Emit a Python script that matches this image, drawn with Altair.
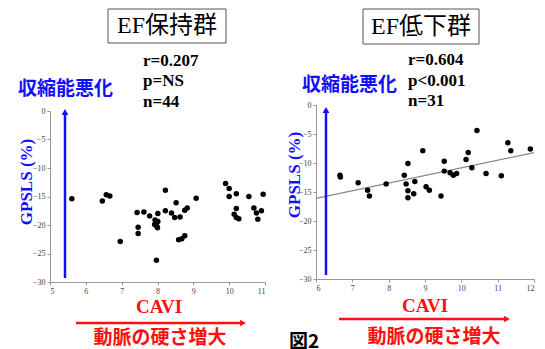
import altair as alt
import pandas as pd

# ---- data ----
left_cavi = [5.61, 6.46, 6.57, 6.67, 6.96, 7.43, 7.62, 7.78, 8.01, 8.22, 8.22, 7.46, 7.46,
             7.95, 8.01, 7.98, 7.92, 7.97, 8.52, 9.08, 8.39, 8.48, 8.63, 8.76, 8.83, 8.59,
             8.68, 8.76, 9.90, 10.0, 10.0, 10.2, 10.55, 10.95, 10.2, 10.14, 10.2, 10.27,
             10.69, 10.76, 10.9, 10.8, 8.0, 7.93]
left_gpsls = [-15.4, -15.8, -14.7, -14.9, -22.9, -17.8, -17.7, -18.4, -18.0, -17.5, -13.9, -20.4, -21.5,
              -19.6, -19.4, -20.2, -19.9, -26.2, -16.1, -15.3, -17.9, -18.7, -18.6, -17.4, -17.0, -22.6,
              -22.4, -21.9, -12.7, -13.6, -15.0, -14.5, -15.0, -14.6, -17.1, -18.1, -18.7, -18.9,
              -17.0, -17.9, -17.5, -19.0, -20.5, -19.1]

right_cavi = [6.66, 6.67, 7.16, 7.42, 7.47, 7.93, 8.43, 8.53, 8.48, 8.53, 8.53, 8.69, 8.72, 8.94,
              9.03, 9.12, 9.44, 9.53, 9.53, 9.69, 9.78, 9.87, 10.13, 10.19, 10.29, 10.43, 10.68,
              11.1, 11.28, 11.36, 11.9]
right_gpsls = [-12.1, -12.4, -13.4, -14.7, -15.7, -13.6, -12.1, -10.1, -13.6, -14.8, -16.0, -15.3, -13.2, -7.9,
               -14.1, -14.7, -15.7, -9.7, -11.4, -11.7, -12.1, -11.8, -9.4, -8.2, -10.8, -4.4, -11.8,
               -12.2, -6.5, -7.9, -7.6]

fit_cavi = [6.0, 12.0]
fit_gpsls = [-16.1, -8.2]

left_x_ticks = [5, 6, 7, 8, 9, 10, 11]
right_x_ticks = [6, 7, 8, 9, 10, 11, 12]
y_ticks = [0, -5, -10, -15, -20, -25, -30]

left_stats = ["r=0.207", "p=NS", "n=44"]
right_stats = ["r=0.604", "p<0.001", "n=31"]

SERIF = "Liberation Serif"
TITLEFONT = "Liberation Serif, Noto Sans CJK JP"
CJK = "Noto Sans CJK JP"
BLUE = "#1010ff"
RED = "#ff1010"

one = pd.DataFrame({"k": [0]})


def axis_common(vals):
    return alt.Axis(values=vals, title=None, grid=False, tickSize=3, labelFontSize=8,
                    labelFont=SERIF, labelColor="#444", domainColor="#999", tickColor="#999",
                    labelPadding=2, labelOverlap=False)


def txt(s, x, y, size, color, font, weight="bold", align="center", angle=0):
    return alt.Chart(one).mark_text(text=s, fontSize=size, color=color, font=font,
                                    fontWeight=weight, align=align, baseline="middle",
                                    angle=angle).encode(x=alt.value(x), y=alt.value(y))


def box(x1, x2, y1, y2):
    return alt.Chart(one).mark_rect(fill="white", stroke="#555", strokeWidth=1).encode(
        x=alt.value(x1), x2=alt.value(x2), y=alt.value(y1), y2=alt.value(y2))


def vrule(x, y1, y2, color, w):
    return alt.Chart(one).mark_rule(color=color, strokeWidth=w).encode(
        x=alt.value(x), y=alt.value(y1), y2=alt.value(y2))


def hrule(x1, x2, y, color, w):
    return alt.Chart(one).mark_rule(color=color, strokeWidth=w).encode(
        x=alt.value(x1), x2=alt.value(x2), y=alt.value(y))


def head(x, y, shape, color, size=45):
    return alt.Chart(one).mark_point(shape=shape, filled=True, size=size, color=color,
                                     opacity=1).encode(x=alt.value(x), y=alt.value(y))


def panel(df, xdom, xticks, yrange, width, height, title, tbox, ttxt, stats, sx, sy,
          lab_xy, gp_xy, arrow_x, arrow_y, cavi_xy, rarrow, dou_xy, extra=None, fit=None):
    xs = alt.Scale(domain=xdom, nice=False, zero=False)
    ys = alt.Scale(domain=[-30, 0], nice=False, zero=False, range=yrange)
    layers = []
    if fit is not None:
        layers.append(alt.Chart(fit).mark_line(color="#888", strokeWidth=1.2).encode(
            x=alt.X("cavi:Q", scale=xs, axis=axis_common(xticks)),
            y=alt.Y("gpsls:Q", scale=ys, axis=axis_common(y_ticks))))
    pts = alt.Chart(df).mark_circle(size=30, color="black", opacity=1).encode(
        x=alt.X("cavi:Q", scale=xs, axis=axis_common(xticks)),
        y=alt.Y("gpsls:Q", scale=ys, axis=axis_common(y_ticks)),
    )
    layers.append(pts)
    layers += [
        box(*tbox),
        txt(title, ttxt[0], ttxt[1], 24, "black", TITLEFONT, weight="normal"),
    ]
    for i, s in enumerate(stats):
        layers.append(txt(s, sx, sy[i], 17, "black", SERIF, align="left"))
    layers += [
        txt("収縮能悪化", lab_xy[0], lab_xy[1], 19, BLUE, CJK),
        txt("GPSLS (%)", gp_xy[0], gp_xy[1], 17, BLUE, SERIF, angle=270),
        vrule(arrow_x, arrow_y[0], arrow_y[1] + 4, BLUE, 2.5),
        head(arrow_x, arrow_y[1] + 4, "triangle-up", BLUE),
        txt("CAVI", cavi_xy[0], cavi_xy[1], 19, RED, SERIF),
        hrule(rarrow[0], rarrow[1] - 4, rarrow[2], RED, 2.5),
        head(rarrow[1] - 4, rarrow[2], "triangle-right", RED),
        txt("動脈の硬さ増大", dou_xy[0], dou_xy[1], 19, RED, CJK),
    ]
    if extra is not None:
        layers.append(extra)
    return alt.layer(*layers).properties(width=width, height=height)


left_df = pd.DataFrame({"cavi": left_cavi, "gpsls": left_gpsls})
right_df = pd.DataFrame({"cavi": right_cavi, "gpsls": right_gpsls})
fit_df = pd.DataFrame({"cavi": fit_cavi, "gpsls": fit_gpsls})

left = panel(left_df, [5, 11], left_x_ticks, [177, 6], 215, 177, "EF保持群",
             (58, 176, -96, -62), (117, -79), left_stats, 93, [-44, -24, -3],
             (15.5, -16), (-23.5, 77), 15, (173, 3), (109, 202), (26, 197, 218), (110, 233))

right = panel(right_df, [6, 12], right_x_ticks, [174, 0], 218, 174, "EF低下群",
              (47, 163, -96, -61), (105, -78), right_stats, 92, [-45, -24, -4],
              (33.5, -20), (-21, 70), 10, (170, 1), (109, 201), (23, 195, 214), (118, 232),
              extra=txt("図2", -12, 237, 19, "black", CJK), fit=fit_df)

chart = alt.hconcat(left, right, spacing=19).properties(
    padding={"left": 9, "top": 0, "right": 0, "bottom": 0}
).configure_view(stroke=None)

chart.save("out.html", embed_options={"renderer": "svg", "actions": False})
